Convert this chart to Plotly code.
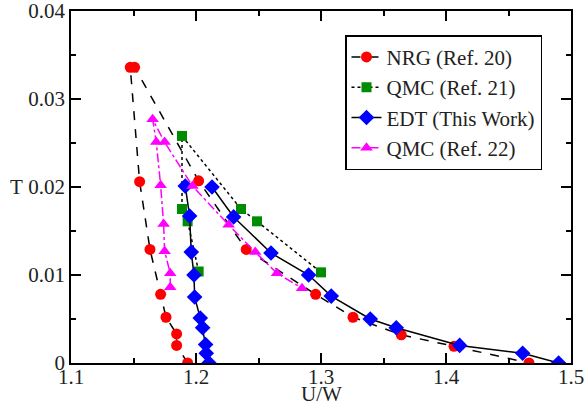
import plotly.graph_objects as go

# NRG (Ref. 20)
nrg_u = [1.1933, 1.1845, 1.1845, 1.1760, 1.1717, 1.1632, 1.1549, 1.1474, 1.1509,
         1.2021, 1.2402, 1.2957, 1.3256, 1.3642, 1.4064, 1.4664]
nrg_t = [0.0, 0.0020, 0.0033, 0.0052, 0.0078, 0.0129, 0.0206, 0.0336, 0.0336,
         0.0207, 0.0129, 0.0078, 0.0052, 0.0032, 0.0019, 0.0]

# QMC (Ref. 21)
qmc21_u = [1.2021, 1.1933, 1.1888, 1.1888, 1.2360, 1.2488, 1.3000]
qmc21_t = [0.0104, 0.0161, 0.0175, 0.0258, 0.0175, 0.0161, 0.0103]

# EDT (This Work) - two branches
edt_left_u = [1.2104, 1.2082, 1.2077, 1.2053, 1.2034, 1.1989, 1.1984, 1.1962, 1.1949, 1.1914]
edt_left_t = [0.0, 0.0011, 0.0021, 0.0040, 0.0051, 0.0075, 0.0100, 0.0126, 0.0167, 0.0201]
edt_right_u = [1.2128, 1.2301, 1.2600, 1.2901, 1.3082, 1.3394, 1.3602, 1.4109, 1.4613, 1.4901]
edt_right_t = [0.0200, 0.0166, 0.0125, 0.0100, 0.0076, 0.0050, 0.0040, 0.0020, 0.0011, 0.0]

# QMC (Ref. 22)
qmc22_u = [1.1794, 1.1794, 1.1749, 1.1741, 1.1717, 1.1682, 1.1653, 1.1749,
           1.1972, 1.2261, 1.2474, 1.2648, 1.2848]
qmc22_t = [0.0086, 0.0102, 0.0127, 0.0158, 0.0202, 0.0251, 0.0277, 0.0251,
           0.0201, 0.0157, 0.0126, 0.0102, 0.0085]

x_ticks = [1.1, 1.2, 1.3, 1.4, 1.5]
y_ticks = [0, 0.01, 0.02, 0.03, 0.04]
y_ticklabels = ["0", "0.01", "0.02", "0.03", "0.04"]

FONT = "'Liberation Serif', 'Times New Roman', Times, serif"
TXT = "#222222"

fig = go.Figure()
fig.add_trace(go.Scatter(
    x=nrg_u, y=nrg_t, mode="lines+markers", name="NRG (Ref. 20)",
    line=dict(color="black", width=1.5, dash="dash"),
    marker=dict(symbol="circle", size=11, color="#ff0000"),
))
fig.add_trace(go.Scatter(
    x=qmc21_u, y=qmc21_t, mode="lines+markers", name="QMC (Ref. 21)",
    line=dict(color="black", width=1.5, dash="dot"),
    marker=dict(symbol="square", size=10, color="#008c00"),
))
fig.add_trace(go.Scatter(
    x=edt_left_u + [None] + edt_right_u, y=edt_left_t + [None] + edt_right_t,
    mode="lines+markers", name="EDT (This Work)", connectgaps=False,
    line=dict(color="black", width=1.5),
    marker=dict(symbol="diamond", size=12, color="#0000ff"),
))
fig.add_trace(go.Scatter(
    x=qmc22_u, y=qmc22_t, mode="lines+markers", name="QMC (Ref. 22)",
    line=dict(color="#ff00ff", width=1.5, dash="dashdot"),
    marker=dict(symbol="triangle-up", size=11, color="#ff00ff"),
))

axis_common = dict(
    showline=True, linecolor="black", linewidth=1.5, mirror="ticks",
    ticks="inside", ticklen=10, tickwidth=1.5, tickcolor="black",
    showgrid=False, zeroline=False, automargin=False,
    ticklabeloverflow="allow",
    tickfont=dict(family=FONT, size=21, color=TXT),
)

fig.update_xaxes(
    range=[1.1, 1.5], tickvals=x_ticks, ticktext=[str(v) for v in x_ticks],
    minor=dict(dtick=0.05, ticks="inside", ticklen=5, tickwidth=1.5, tickcolor="black"),
    ticklabelstandoff=-6,
    **axis_common,
)
fig.update_yaxes(
    range=[0, 0.04], tickvals=y_ticks, ticktext=y_ticklabels,
    minor=dict(dtick=0.005, ticks="inside", ticklen=5, tickwidth=1.5, tickcolor="black"),
    **axis_common,
)

fig.add_annotation(
    text="U/W", xref="paper", yref="paper", x=0.5, y=-0.089, xanchor="center", yanchor="middle",
    showarrow=False, font=dict(family=FONT, size=21, color=TXT),
)
fig.add_annotation(
    text="T", xref="paper", yref="y", x=-0.092, y=0.02, xanchor="right", yanchor="middle",
    showarrow=False, font=dict(family=FONT, size=21, color=TXT),
)

fig.update_layout(
    width=586, height=412,
    margin=dict(l=71, r=15, t=11, b=49),
    plot_bgcolor="white", paper_bgcolor="white",
    font=dict(family=FONT, size=21, color=TXT),
    legend=dict(
        x=0.548, y=0.931, xanchor="left", yanchor="top",
        bgcolor="white", bordercolor="black", borderwidth=1.5,
        font=dict(family=FONT, size=21, color=TXT),
        tracegroupgap=0, itemwidth=30,
    ),
    showlegend=True,
)

fig.write_html("out.html")
